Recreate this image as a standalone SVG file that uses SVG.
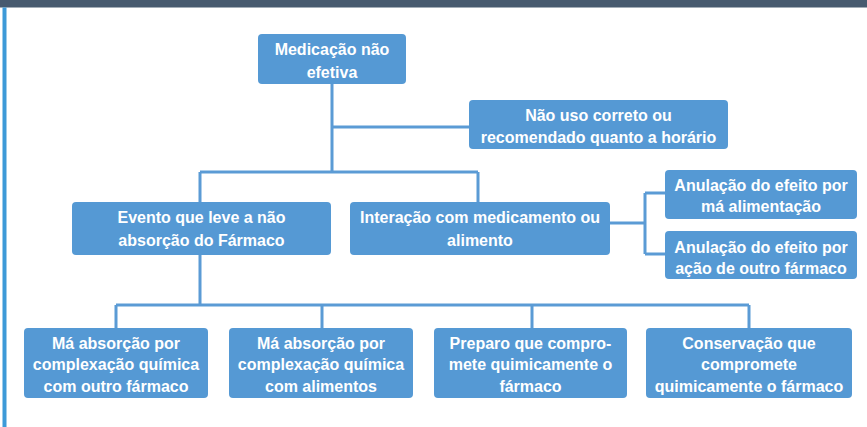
<svg xmlns="http://www.w3.org/2000/svg" width="867" height="427" viewBox="0 0 867 427">
<style>
.box{fill:#5599d4;}
.t{font-family:"Liberation Sans",Arial,sans-serif;font-weight:bold;font-size:16px;fill:#ffffff;text-anchor:middle;}
.c{fill:none;stroke:#5b9bd5;stroke-width:3;}
</style>
<rect x="0" y="0" width="867" height="427" fill="#ffffff"/>
<rect x="0" y="0" width="867" height="7.5" fill="#475a6f"/>
<rect x="2.5" y="7.5" width="4" height="420" fill="#3d9ad8"/>
<g id="connectors">
<path class="c" d="M332 84 V172 M332 127 H469 M200 172 H478 M200 172 V202 M478 172 V202 M610 223 H645 M645 193 V254 M645 193 H665 M645 254 H665 M200 255 V305 M116 305 H749 M116 305 V328 M322 305 V328 M532 305 V328 M749 305 V328"/>
</g>
<g id="n1"><rect class="box" x="258" y="34" width="148" height="50" rx="4"/>
<text class="t" x="332" y="55">Medicação não</text><text class="t" x="332" y="78">efetiva</text></g>
<g id="n2"><rect class="box" x="469" y="100" width="259" height="49" rx="4"/>
<text class="t" x="598.5" y="120.5">Não uso correto ou</text><text class="t" x="598.5" y="142.5">recomendado quanto a horário</text></g>
<g id="n3"><rect class="box" x="72" y="202" width="259" height="53" rx="4"/>
<text class="t" x="201.5" y="222.5">Evento que leve a não</text><text class="t" x="201.5" y="245.5">absorção do Fármaco</text></g>
<g id="n4"><rect class="box" x="350" y="202" width="260" height="53" rx="4"/>
<text class="t" x="480" y="222.5">Interação com medicamento ou</text><text class="t" x="480" y="245.5">alimento</text></g>
<g id="n5"><rect class="box" x="665" y="170" width="192" height="49" rx="4"/>
<text class="t" x="761" y="190.5">Anulação do efeito por</text><text class="t" x="761" y="211.5">má alimentação</text></g>
<g id="n6"><rect class="box" x="665" y="231" width="192" height="48" rx="4"/>
<text class="t" x="761" y="252.5">Anulação do efeito por</text><text class="t" x="761" y="273.5">ação de outro fármaco</text></g>
<g id="n7"><rect class="box" x="24" y="328" width="184" height="70" rx="4"/>
<text class="t" x="116" y="348.5">Má absorção por</text><text class="t" x="116" y="370">complexação química</text><text class="t" x="116" y="391.5">com outro fármaco</text></g>
<g id="n8"><rect class="box" x="229" y="328" width="184" height="70" rx="4"/>
<text class="t" x="321" y="348.5">Má absorção por</text><text class="t" x="321" y="370">complexação química</text><text class="t" x="321" y="391.5">com alimentos</text></g>
<g id="n9"><rect class="box" x="434" y="328" width="193" height="70" rx="4"/>
<text class="t" x="530.5" y="348.5">Preparo que compro-</text><text class="t" x="530.5" y="370">mete quimicamente o</text><text class="t" x="530.5" y="391.5">fármaco</text></g>
<g id="n10"><rect class="box" x="646" y="328" width="206" height="70" rx="4"/>
<text class="t" x="749" y="348.5">Conservação que</text><text class="t" x="749" y="370">compromete</text><text class="t" x="749" y="391.5">quimicamente o fármaco</text></g>
</svg>
